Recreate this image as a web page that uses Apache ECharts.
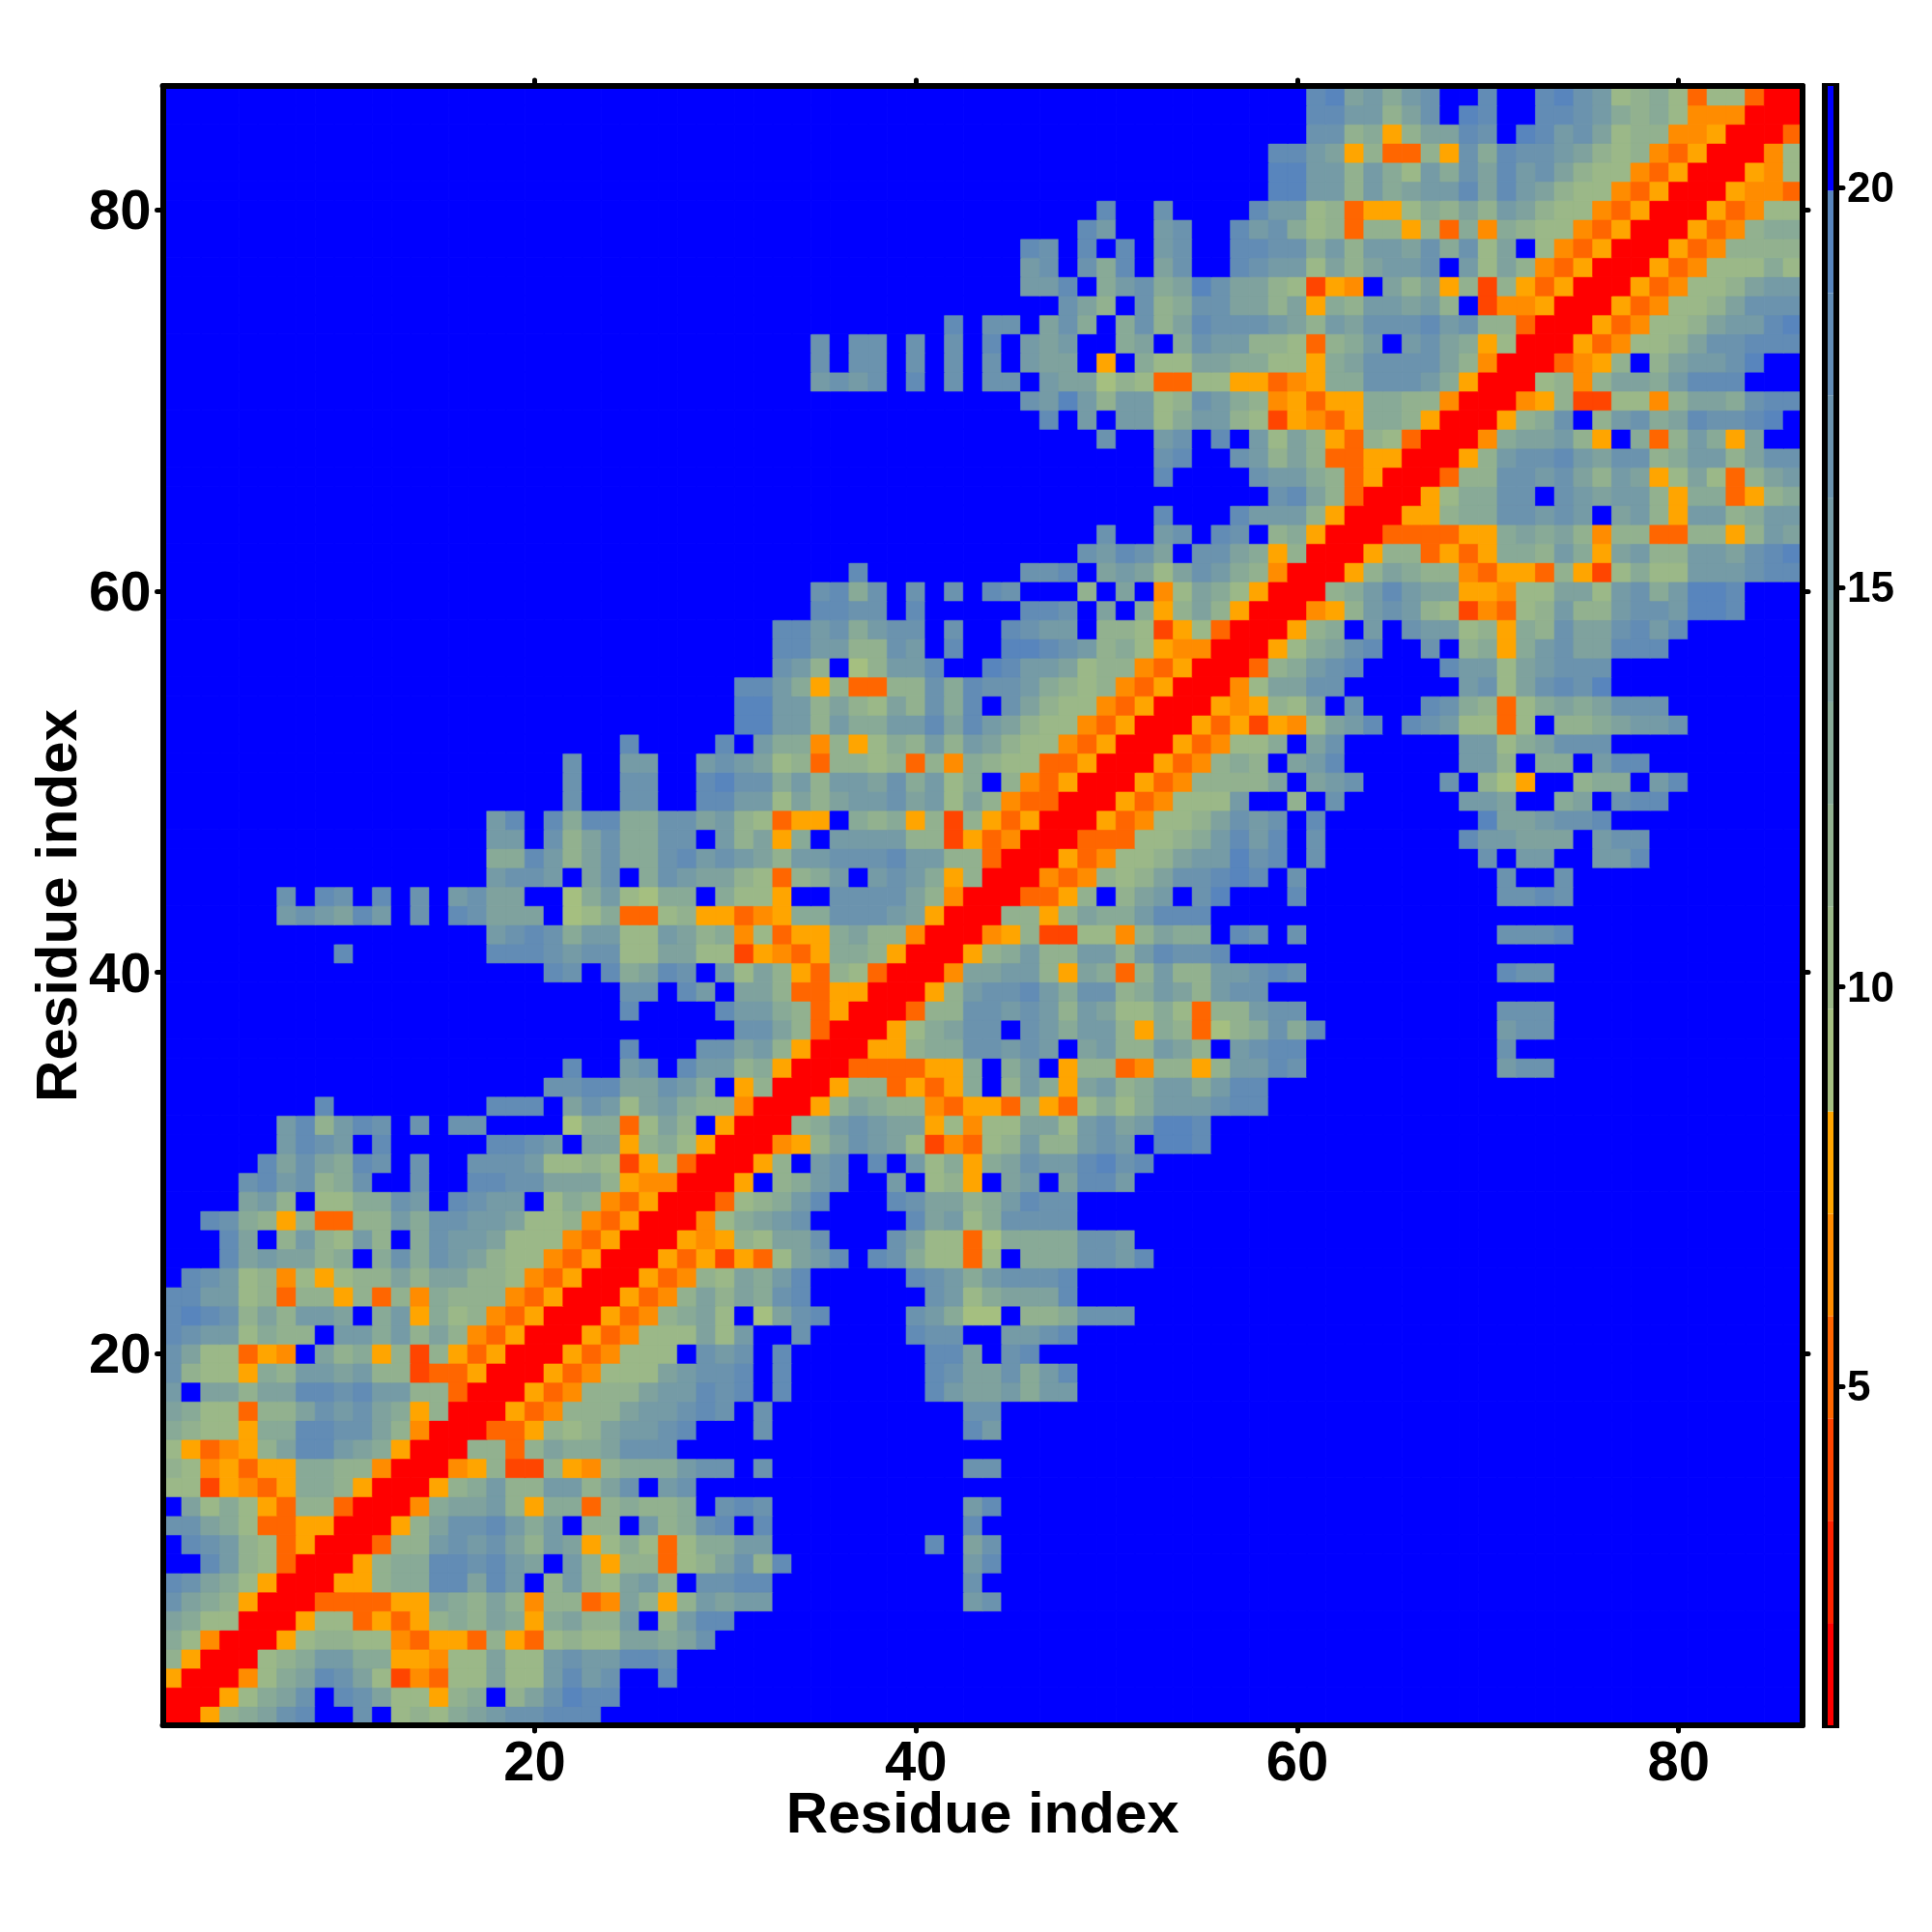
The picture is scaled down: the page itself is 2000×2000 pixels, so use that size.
<!DOCTYPE html>
<html><head><meta charset="utf-8"><style>html,body{margin:0;background:#fff}#c{width:2000px;height:2000px}</style>
<script src="https://cdn.jsdelivr.net/npm/echarts@6/dist/echarts.min.js"></script></head>
<body><div id="c"></div><script>
// Each row: level codes for residue y, starting at x = y; matrix is symmetric, cells past the end are out of range.
const upperRows = [
"rrd34578..7.23245677888",
"rrd2457.87522d34.357988",
"rrc2458752ecb225226867..8",
"rr2346644ddc225226766887",
"rrd23322cbddb3db232255457",
"rrd22bdbd34354d45336.3688",
"rrbbbbdd54353c33bc53d36566..........67",
"rrdd34488586.3632563.7788..........7",
"rrd344887865.63d33b235738.........68",
"rrb3367675365d242b24466........8.57",
"rrd35778646.33.63478.8..........8",
"rrc45563d44b34334.787..........68",
"rrd3463366357.67",
"rrcd3ee3dc3444677.7..........77",
"rr33b35445777",
"rrbbd32356678...7..........86",
"rrdbc333566787.7..........77",
"rrdbc333566878.8.......86556466",
"rrdbc22256778.8.......87557468",
"rrdbc222.767.8.......885.78",
"rrdbc222526..7.....877..6678",
"rrdbc3452.1578....76411.334777",
"rrdbc3535478......76245558",
"rrdbc325468.....876467778",
"rrdbdedb2568.87422b2.4447768",
"rrdcd32557...7522b14444776",
"rrc24567.....856247777",
"rrb23468...8755346877",
"rrd.3467..6.23d.56.5886",
"rrd3.67.8.624d457668978",
"rrcd357652ecb23633676.998",
"rr3467655d2c225526756998",
"rrd35433cbddb3db2424666788",
"rrd33bdbd4.364d5634664688",
"rrbbbbdd4.46.d33bc33d36687..........677",
"rrdd34477676.5633653.6788..........7",
"rrd24577.764663d43b134748.........677",
"rrb33776763652242b33677..........777",
"rrd36778647734653677",
"rrc55663d54b363366787..........877",
"rrd3463366368778",
"rrcd3ee22c3544.87.7..........7778",
"rr33d35446888",
"rrbbd3.356.79...8..........7787",
"rrcbc323577898.7..........7..7",
"rrdbc223566978.7........7.66..668",
"rrbbb22346868.7.......866555.677",
"rrdbc2235767.8........9556778",
"rrdbc2226..3.7......665..45.788",
"rrdbc33335.567....7.31d..344.68",
"rrdbc343.568......663.44.688",
"rrdbc224.57......66245777",
"rrdbdedc2568.87622b2.3345667",
"rrdcd325.7...8743b24545777",
"rrc25577......67257879",
"rrb34678....866256777",
"rrd24578..7.34d46755888",
"rrd34.6.76623d437557868",
"rrcd367632ecb236336776998",
"rr3468655ddc225526746998",
"rrd35433cbddb3de2422666788",
"rrd33bdbd44364d5633665789",
"rrbbbbdd45453c33bb33d365",
"rrdd34477676.563d663466",
"rrd24477.765663d44bd34",
"rrb3377675365d252b356",
"rrd36778657734663577",
"rrc45563d.4b364d5..",
"rrd347.3674587789.",
"rrcd3ee22c3554788",
"rr23c35546888",
"rrbcd3.356679",
"rrdbc223577888",
"rrdbc22356689",
"rrdbc2235777",
"rrdbc223566",
"rrdbc22242",
"rrdbc3333",
"rrdbc344",
"rrdbc22",
"rrdccb",
"rrdc2",
"rrc2",
"rrb",
"rr",
"r"
];
const levelCodes = ["r","f","e","b","c","d","1","2","3","4","5","6","7","8","9","."];
const levelColors = ["#ff0000","#ff2300","#ff4500","#ff6600","#ff8c00","#ffa500","#a5bf80","#9bb888","#92b18f","#88aa97","#7fa29e","#759ba6","#6b93ae","#628cb5","#5885bd","#0000ff"];
const levelEdges = [0.76,2.04,3.32,4.6,5.88,7.16,8.44,9.72,11,12.28,13.56,14.84,16.12,17.4,18.68,19.96,21.27];
const residues = Array.from({length:86},(_,i)=>String(i+1));
const axisTicks = ["20","40","60","80"];
const barTicks = [5,10,15,20];

const levelOf = ch => Math.max(levelCodes.indexOf(ch),0);
const valueOf = l => (levelEdges[l]+levelEdges[l+1])/2;
const cells = [];
for (let y=1;y<=86;y++) for (let x=1;x<=86;x++){
  const lo=Math.min(x,y), hi=Math.max(x,y);
  const l=levelOf(upperRows[lo-1][hi-lo]||".");
  cells.push({value:[x-1,y-1,+valueOf(l).toFixed(2)],itemStyle:{borderColor:levelColors[l],borderWidth:0.6}});
}
const font={fontFamily:"Liberation Sans",fontWeight:"bold",color:"#000"};
const showTick=(i,v)=>axisTicks.includes(v);
const line={show:true,onZero:false,lineStyle:{color:"#000",width:6,cap:"round"}};
const tick={show:true,interval:showTick,alignWithLabel:true,length:6,lineStyle:{color:"#000",width:5,cap:"round"}};
const mainAxis=(pos,lab,gap,extra)=>({type:"category",gridIndex:0,position:pos,z:10,data:residues,axisLine:line,axisTick:tick,splitLine:{show:false},
  axisLabel:lab?{show:true,interval:showTick,fontSize:58,margin:12,...extra,...font}:{show:false},
  name:lab?"Residue index":"",nameLocation:"middle",nameGap:gap,nameMoveOverlap:false,nameTextStyle:{fontSize:60,...font}});
const chart=echarts.init(document.getElementById("c"),null,{renderer:"canvas"});
chart.setOption({animation:false,backgroundColor:"#fff",
 grid:[{left:168.5,top:89,width:1697.5,height:1697,containLabel:false,outerBoundsMode:"none"},
       {left:1889,top:89,width:12,height:1697,show:true,borderColor:"#000",borderWidth:6,backgroundColor:"transparent",outerBoundsMode:"none"}],
 xAxis:[mainAxis("bottom",true,64,{}),mainAxis("top",false,0),
        {type:"category",gridIndex:1,data:["c"],show:false}],
 yAxis:[mainAxis("left",true,76,{verticalAlign:"top",lineHeight:8}),mainAxis("right",false,0),
        {type:"value",gridIndex:1,position:"right",min:levelEdges[0],max:levelEdges[16],
         axisLine:{show:false},splitLine:{show:false},
         axisTick:{show:true,length:7,customValues:barTicks,lineStyle:{color:"#000",width:5,cap:"round"}},
         axisLabel:{show:true,customValues:barTicks,fontSize:44,margin:11,verticalAlign:"top",lineHeight:6,...font}}],
 visualMap:{show:false,type:"piecewise",seriesIndex:0,dimension:2,
   pieces:levelColors.map((c,i)=>({gte:levelEdges[i],lt:levelEdges[i+1],color:c}))},
 series:[{type:"heatmap",xAxisIndex:0,yAxisIndex:0,data:cells,progressive:0,emphasis:{disabled:true}},
   ...levelColors.map((c,i)=>({type:"bar",xAxisIndex:2,yAxisIndex:2,stack:"bar",barWidth:6,silent:true,
      itemStyle:{color:c},data:[i===0?levelEdges[1]:+(levelEdges[i+1]-levelEdges[i]).toFixed(2)]}))]
});
</script></body></html>
